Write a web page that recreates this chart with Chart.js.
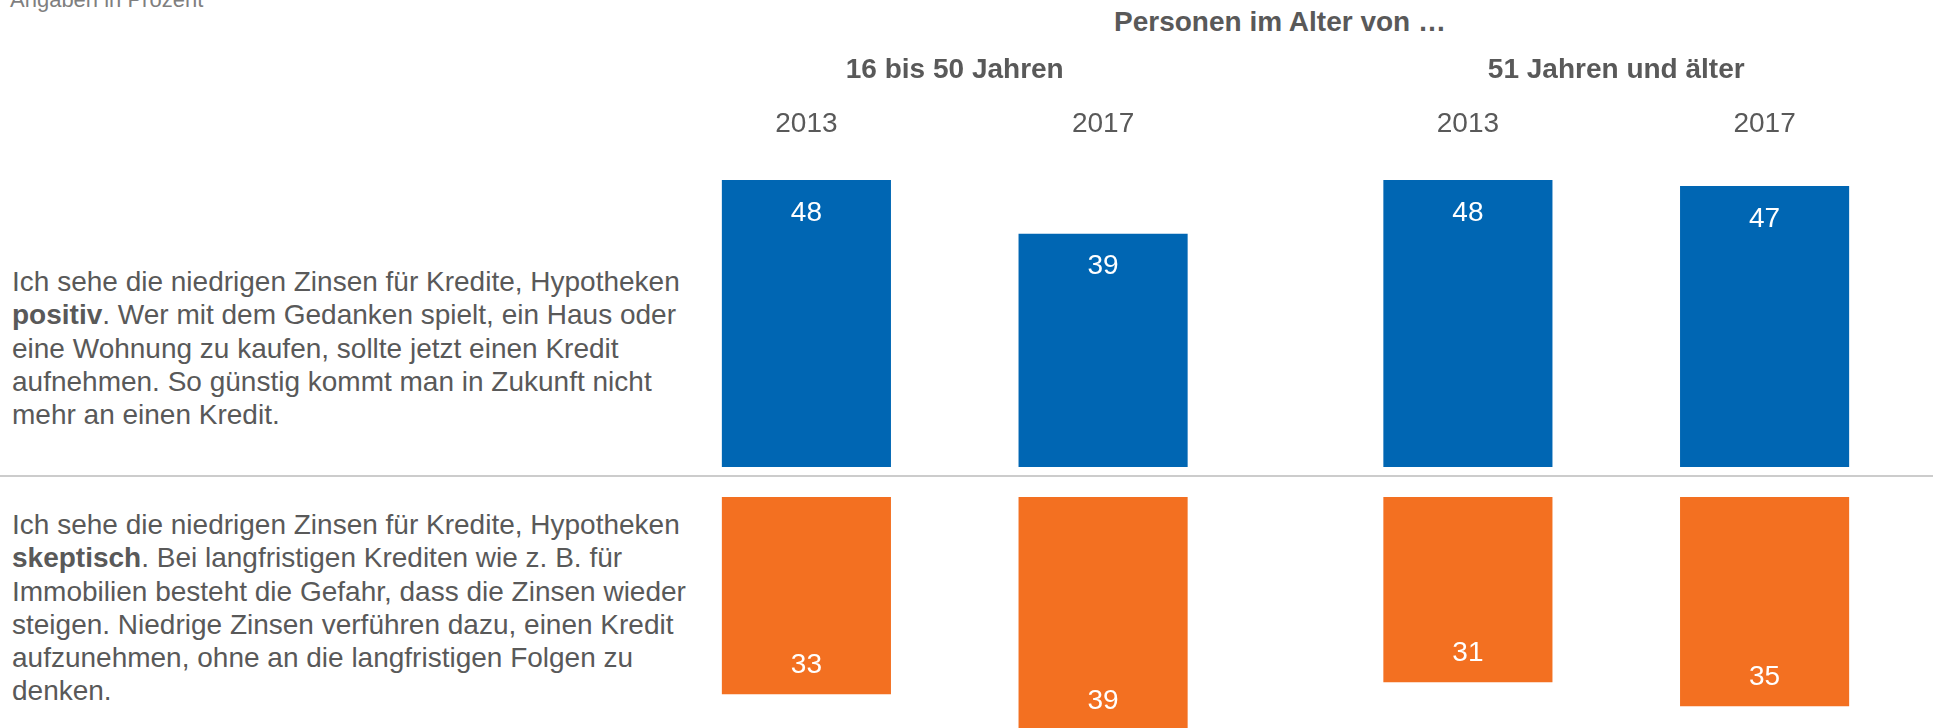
<!DOCTYPE html>
<html lang="de">
<head>
<meta charset="utf-8">
<script src="https://cdn.jsdelivr.net/npm/chart.js@4.4.1/dist/chart.umd.min.js"></script>
<style>
  html, body {
    margin: 0;
    width: 1933px;
    height: 728px;
    overflow: hidden;
    background: #fff;
    font-family: "Liberation Sans", Arial, sans-serif;
    color: #595959;
  }
  .note {
    position: absolute;
    left: 10px;
    top: -13px;
    font-size: 22px;
    color: #7f7f7f;
  }
  .title {
    position: absolute;
    left: 1080px;
    width: 400px;
    top: 6px;
    text-align: center;
    font-size: 28px;
    font-weight: bold;
  }
  .statement {
    position: absolute;
    left: 12px;
    font-size: 28px;
    line-height: 33.3px;
    white-space: nowrap;
  }
  .divider {
    position: absolute;
    left: 0;
    top: 475px;
    width: 1933px;
    height: 2px;
    background: #cccccc;
  }
  canvas { position: absolute; }
</style>
</head>
<body>
<div class="note">Angaben in Prozent</div>
<div class="title">Personen im Alter von …</div>

<div class="statement" style="top:265px">
  Ich sehe die niedrigen Zinsen für Kredite, Hypotheken<br>
  <b>positiv</b>. Wer mit dem Gedanken spielt, ein Haus oder<br>
  eine Wohnung zu kaufen, sollte jetzt einen Kredit<br>
  aufnehmen. So günstig kommt man in Zukunft nicht<br>
  mehr an einen Kredit.
</div>
<div class="statement" style="top:508px">
  Ich sehe die niedrigen Zinsen für Kredite, Hypotheken<br>
  <b>skeptisch</b>. Bei langfristigen Krediten wie z. B. für<br>
  Immobilien besteht die Gefahr, dass die Zinsen wieder<br>
  steigen. Niedrige Zinsen verführen dazu, einen Kredit<br>
  aufzunehmen, ohne an die langfristigen Folgen zu<br>
  denken.
</div>

<div class="divider"></div>

<canvas id="positiv" width="1323" height="467" style="left:624px; top:0px"></canvas>
<canvas id="skeptisch" width="1323" height="231" style="left:624px; top:497px"></canvas>

<script>
const ageGroups = ['16 bis 50 Jahren', '51 Jahren und älter'];
const years = ['2013', '2017'];

// Anteile "positiv" je Altersgruppe
const positiv2013 = [48, 48];
const positiv2017 = [39, 47];

// Anteile "skeptisch" je Altersgruppe
const skeptisch2013 = [33, 31];
const skeptisch2017 = [39, 35];

const BLUE = '#0066b3';
const ORANGE = '#f37021';
const GREY = '#595959';
const FONT = '"Liberation Sans", Arial, sans-serif';

// white value inside each bar, near its outer end
const valueLabels = {
  id: 'valueLabels',
  afterDatasetsDraw(chart, args, opts) {
    const ctx = chart.ctx;
    ctx.save();
    ctx.font = '28px ' + FONT;
    ctx.fillStyle = '#fff';
    ctx.textAlign = 'center';
    ctx.textBaseline = 'middle';
    chart.data.datasets.forEach((ds, d) => {
      chart.getDatasetMeta(d).data.forEach((bar, i) => {
        const y = opts.down ? bar.y - opts.inset : bar.y + opts.inset;
        ctx.fillText(ds.data[i], bar.x, Math.min(y, chart.height - 12));
      });
    });
    ctx.restore();
  }
};

// age group headings and year captions above the upper bars
const columnHeads = {
  id: 'columnHeads',
  afterDraw(chart, args, opts) {
    if (!opts.show) return;
    const ctx = chart.ctx;
    const x = chart.scales.x;
    ctx.save();
    ctx.fillStyle = GREY;
    ctx.textAlign = 'center';
    ctx.textBaseline = 'middle';
    ctx.font = 'bold 28px ' + FONT;
    ageGroups.forEach((g, i) => ctx.fillText(g, x.getPixelForValue(i), 70));
    ctx.font = '28px ' + FONT;
    chart.data.datasets.forEach((ds, d) => {
      chart.getDatasetMeta(d).data.forEach(bar => ctx.fillText(ds.label, bar.x, 124));
    });
    ctx.restore();
  }
};

function barChart(id, data2013, data2017, color, yOpts, padTop, down) {
  return new Chart(document.getElementById(id), {
    type: 'bar',
    data: {
      labels: ageGroups,
      datasets: [
        { label: years[0], data: data2013, backgroundColor: color },
        { label: years[1], data: data2017, backgroundColor: color }
      ]
    },
    options: {
      responsive: false,
      animation: false,
      layout: { padding: { top: padTop, bottom: 0, left: 0, right: 0 } },
      datasets: { bar: { categoryPercentage: 0.897, barPercentage: 0.57 } },
      scales: {
        x: { display: false },
        y: Object.assign({ display: false, min: 0 }, yOpts)
      },
      plugins: {
        legend: { display: false },
        tooltip: { enabled: false },
        valueLabels: { down: down, inset: down ? 29 : 33 },
        columnHeads: { show: !down }
      }
    },
    plugins: [valueLabels, columnHeads]
  });
}

barChart('positiv', positiv2013, positiv2017, BLUE, { max: 50 }, 168, false);
barChart('skeptisch', skeptisch2013, skeptisch2017, ORANGE, { max: 38.63, reverse: true }, 0, true);
</script>
</body>
</html>
